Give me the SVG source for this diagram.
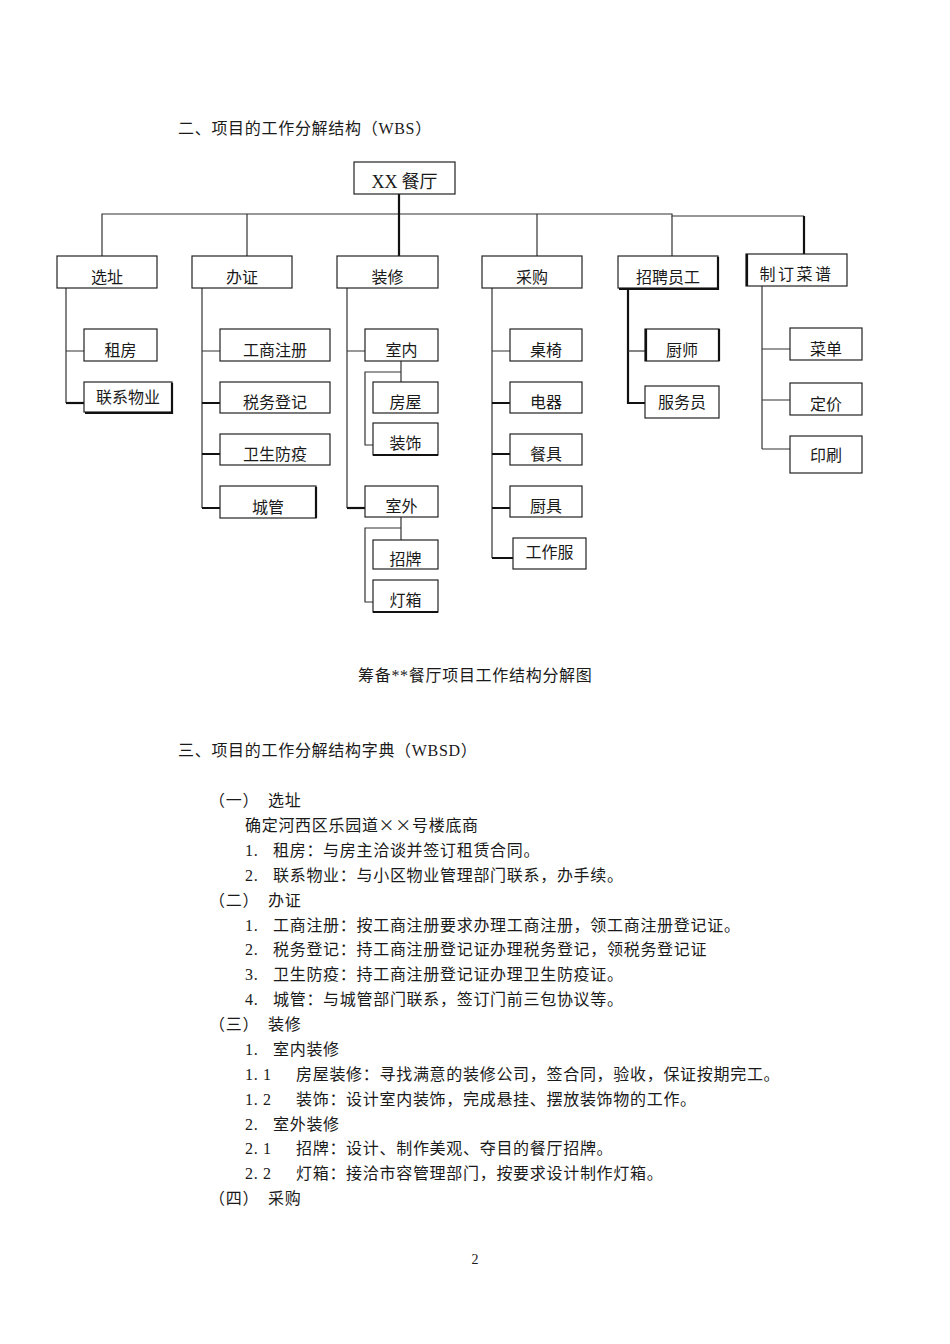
<svg xmlns="http://www.w3.org/2000/svg" width="950" height="1344" viewBox="0 0 950 1344">
<style>
text{font-family:"Noto Sans CJK SC","Liberation Serif",sans-serif;fill:#1a1a1a}
.t{font-size:16px;letter-spacing:0.7px}
.n{font-family:"Liberation Serif","Noto Sans CJK SC",serif;font-size:16px;letter-spacing:0.7px}
.lb{font-size:16px;text-anchor:middle}
.box{fill:#fff;stroke:#222;stroke-width:1.2}
.c{fill:none;stroke:#333;stroke-width:1.2}
.k{fill:none;stroke:#111;stroke-width:2.2}
</style>
<rect width="950" height="1344" fill="#fff"/>
<text class="t" x="178" y="134">二、项目的工作分解结构（<tspan class="n">WBS</tspan>）</text>

<g id="connectors">
<path class="c" d="M102 256V214H672V216H804"/>
<path class="c" d="M247 214V256M537 214V256M672 216V256"/>
<path class="k" d="M399 194V256M804 216V254"/>
<path class="c" d="M66 288V403M66 351H84"/>
<path class="k" d="M66 403H84"/>
<path class="c" d="M202 288V508M202 351H220"/>
<path class="k" d="M202 403H220M202 454H220M202 508H220"/>
<path class="c" d="M347 288V508M347 351H365"/>
<path class="k" d="M347 508H365"/>
<path class="c" d="M401 361V382M401 372H365V445H373"/>
<path class="c" d="M401 517V540M401 528H365V602H373"/>
<path class="c" d="M492 288V558M492 351H510"/>
<path class="k" d="M492 403H510M492 454H510M492 508H510M492 558H513"/>
<path class="k" d="M628 288V403H645"/>
<path class="c" d="M628 351H645"/>
<path class="c" d="M762 286V449M762 349H790M762 400H790M762 449H790"/>
</g>

<g id="n-root"><rect class="box" x="354" y="162" width="101" height="32"/><text class="lb" x="404.5" y="188" style="font-size:18px"><tspan style="font-family:'Liberation Serif',serif">XX</tspan> 餐厅</text></g>
<g id="n-xuanzhi"><rect class="box" x="57" y="256" width="100" height="32"/><text class="lb" x="107" y="283">选址</text></g>
<g id="n-banzheng"><rect class="box" x="192" y="256" width="100" height="32"/><text class="lb" x="242" y="283">办证</text></g>
<g id="n-zhuangxiu"><rect class="box" x="337" y="256" width="101" height="32"/><text class="lb" x="387.5" y="283">装修</text></g>
<g id="n-caigou"><rect class="box" x="482" y="256" width="100" height="32"/><text class="lb" x="532" y="283">采购</text></g>
<g id="n-zhaopin"><rect class="box" x="618" y="256" width="100" height="32"/><path class="k" d="M718 257V289H619"/><text class="lb" x="668" y="283">招聘员工</text></g>
<g id="n-caipu"><rect class="box" x="746" y="254" width="101" height="32"/><path class="k" d="M747 254V286"/><text class="lb" x="796.5" y="280" style="letter-spacing:2.5px">制订菜谱</text></g>

<g id="n-zufang"><rect class="box" x="84" y="329" width="73" height="32"/><text class="lb" x="120.5" y="356">租房</text></g>
<g id="n-wuye"><rect class="box" x="84" y="382" width="88" height="30"/><path class="k" d="M172 383V413H85"/><text class="lb" x="128" y="403">联系物业</text></g>

<g id="n-gongshang"><rect class="box" x="220" y="329" width="110" height="32"/><text class="lb" x="275" y="356">工商注册</text></g>
<g id="n-shuiwu"><rect class="box" x="220" y="382" width="110" height="31"/><text class="lb" x="275" y="408">税务登记</text></g>
<g id="n-weisheng"><rect class="box" x="220" y="434" width="110" height="31"/><text class="lb" x="275" y="460">卫生防疫</text></g>
<g id="n-chengguan"><rect class="box" x="220" y="486" width="96" height="32"/><path class="k" d="M316 487V518"/><text class="lb" x="268" y="513">城管</text></g>

<g id="n-shinei"><rect class="box" x="365" y="329" width="73" height="32"/><text class="lb" x="401.5" y="356">室内</text></g>
<g id="n-fangwu"><rect class="box" x="373" y="382" width="65" height="31"/><text class="lb" x="405.5" y="408">房屋</text></g>
<g id="n-zhuangshi"><rect class="box" x="373" y="423" width="65" height="32"/><path class="k" d="M373 455H438"/><text class="lb" x="405.5" y="449">装饰</text></g>
<g id="n-shiwai"><rect class="box" x="365" y="486" width="73" height="31"/><text class="lb" x="401.5" y="512">室外</text></g>
<g id="n-zhaopai"><rect class="box" x="373" y="540" width="65" height="29"/><text class="lb" x="405.5" y="565">招牌</text></g>
<g id="n-dengxiang"><rect class="box" x="373" y="580" width="65" height="32"/><path class="k" d="M373 612H438"/><text class="lb" x="405.5" y="606">灯箱</text></g>

<g id="n-zhuoyi"><rect class="box" x="510" y="329" width="72" height="32"/><text class="lb" x="546" y="356">桌椅</text></g>
<g id="n-dianqi"><rect class="box" x="510" y="382" width="72" height="31"/><text class="lb" x="546" y="408">电器</text></g>
<g id="n-canju"><rect class="box" x="510" y="434" width="72" height="31"/><text class="lb" x="546" y="460">餐具</text></g>
<g id="n-chuju"><rect class="box" x="510" y="486" width="72" height="31"/><text class="lb" x="546" y="512">厨具</text></g>
<g id="n-gongzuofu"><rect class="box" x="513" y="538" width="73" height="31"/><text class="lb" x="549.5" y="558">工作服</text></g>

<g id="n-chushi"><rect class="box" x="645" y="329" width="74" height="32"/><path class="k" d="M646 329V361M719 329V361"/><text class="lb" x="682" y="356">厨师</text></g>
<g id="n-fuwuyuan"><rect class="box" x="645" y="386" width="74" height="32"/><text class="lb" x="682" y="408">服务员</text></g>

<g id="n-caidan"><rect class="box" x="790" y="328" width="72" height="32"/><text class="lb" x="826" y="355">菜单</text></g>
<g id="n-dingjia"><rect class="box" x="790" y="383" width="72" height="32"/><text class="lb" x="826" y="410">定价</text></g>
<g id="n-yinshua"><rect class="box" x="790" y="436" width="72" height="37"/><text class="lb" x="826" y="461">印刷</text></g>

<text class="t" x="358" y="681">筹备<tspan class="n">**</tspan>餐厅项目工作结构分解图</text>
<text class="t" x="178" y="756">三、项目的工作分解结构字典（<tspan class="n">WBSD</tspan>）</text>

<g>
<text class="t" x="209" y="806">（一）</text><text class="t" x="268" y="806">选址</text>
<text class="t" x="245" y="831">确定河西区乐园道××号楼底商</text>
<text class="n" x="245" y="856">1.</text><text class="t" x="273" y="856">租房：与房主洽谈并签订租赁合同。</text>
<text class="n" x="245" y="881">2.</text><text class="t" x="273" y="881">联系物业：与小区物业管理部门联系，办手续。</text>
<text class="t" x="209" y="906">（二）</text><text class="t" x="268" y="906">办证</text>
<text class="n" x="245" y="931">1.</text><text class="t" x="273" y="931">工商注册：按工商注册要求办理工商注册，领工商注册登记证。</text>
<text class="n" x="245" y="955">2.</text><text class="t" x="273" y="955">税务登记：持工商注册登记证办理税务登记，领税务登记证</text>
<text class="n" x="245" y="980">3.</text><text class="t" x="273" y="980">卫生防疫：持工商注册登记证办理卫生防疫证。</text>
<text class="n" x="245" y="1005">4.</text><text class="t" x="273" y="1005">城管：与城管部门联系，签订门前三包协议等。</text>
<text class="t" x="209" y="1030">（三）</text><text class="t" x="268" y="1030">装修</text>
<text class="n" x="245" y="1055">1.</text><text class="t" x="273" y="1055">室内装修</text>
<text class="n" x="245" y="1080">1. 1</text><text class="t" x="296" y="1080">房屋装修：寻找满意的装修公司，签合同，验收，保证按期完工。</text>
<text class="n" x="245" y="1105">1. 2</text><text class="t" x="296" y="1105">装饰：设计室内装饰，完成悬挂、摆放装饰物的工作。</text>
<text class="n" x="245" y="1130">2.</text><text class="t" x="273" y="1130">室外装修</text>
<text class="n" x="245" y="1154">2. 1</text><text class="t" x="296" y="1154">招牌：设计、制作美观、夺目的餐厅招牌。</text>
<text class="n" x="245" y="1179">2. 2</text><text class="t" x="296" y="1179">灯箱：接洽市容管理部门，按要求设计制作灯箱。</text>
<text class="t" x="209" y="1204">（四）</text><text class="t" x="268" y="1204">采购</text>
</g>
<text x="475" y="1264" style="font-family:'Liberation Serif',serif;font-size:14px;text-anchor:middle">2</text>
</svg>
